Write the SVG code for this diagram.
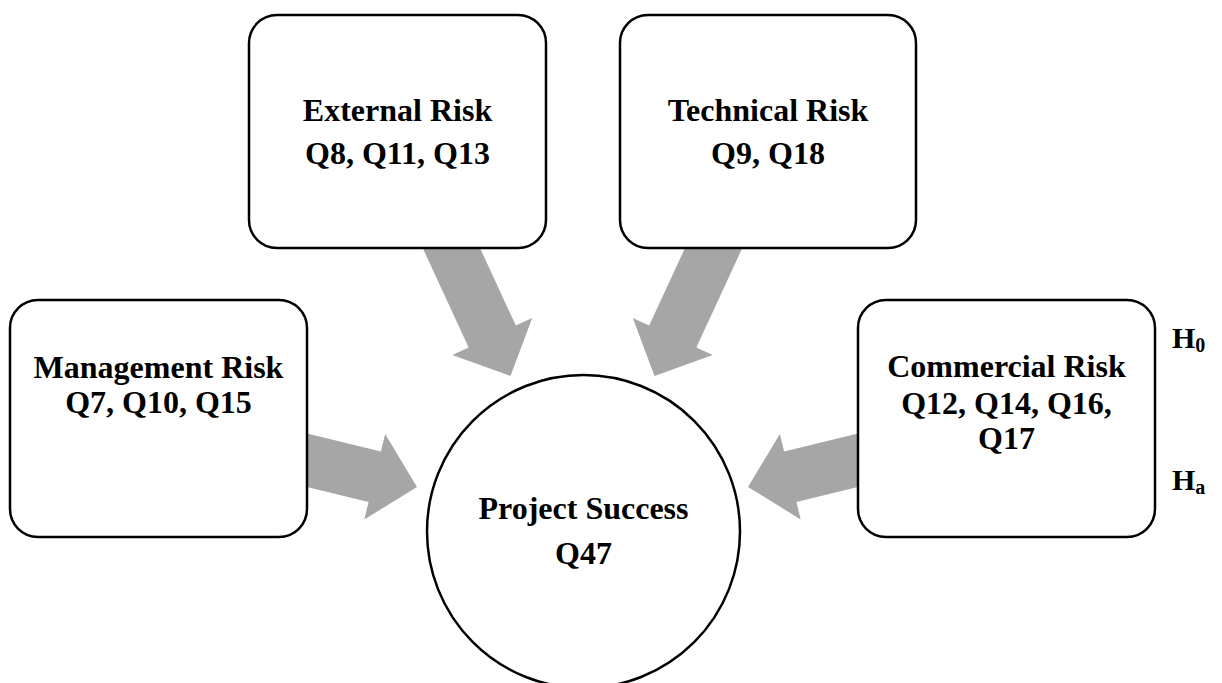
<svg xmlns="http://www.w3.org/2000/svg" width="1222" height="683" viewBox="0 0 1222 683">
  <defs>
    <style>
      .box { fill: #ffffff; stroke: #000000; stroke-width: 2.5; }
      .arrow { fill: #a6a6a6; stroke: none; }
      .lbl { font-family: "Liberation Serif", "Times New Roman", serif; font-weight: bold; font-size: 32px; fill: #000000; text-anchor: middle; }
      .hyp { font-family: "Liberation Serif", "Times New Roman", serif; font-weight: bold; font-size: 30px; fill: #000000; }
    </style>
  </defs>
  <rect width="1222" height="683" fill="#ffffff"/>

  <!-- block arrows: local frame points along +x, tip at origin -->
  <g id="connectors">
    <polygon class="arrow" transform="translate(510.5 376) rotate(65.2)" points="-165,-26 -43.5,-26 -43.5,-44 0,0 -43.5,44 -43.5,26 -165,26"/>
    <polygon class="arrow" transform="translate(654.5 376) rotate(114.8)" points="-165,-26 -43.5,-26 -43.5,-44 0,0 -43.5,44 -43.5,26 -165,26"/>
    <polygon class="arrow" transform="translate(417 487) rotate(13.7)" points="-130,-26 -43.5,-26 -43.5,-44 0,0 -43.5,44 -43.5,26 -130,26"/>
    <polygon class="arrow" transform="translate(748 487) rotate(166.3)" points="-130,-26 -43.5,-26 -43.5,-44 0,0 -43.5,44 -43.5,26 -130,26"/>
  </g>

  <g id="external-risk">
    <rect class="box" x="249" y="15" width="297" height="233" rx="28"/>
    <text class="lbl" x="397.5" y="121">External Risk</text>
    <text class="lbl" x="397.5" y="164">Q8, Q11, Q13</text>
  </g>

  <g id="technical-risk">
    <rect class="box" x="620" y="15" width="296" height="233" rx="28"/>
    <text class="lbl" x="768" y="121">Technical Risk</text>
    <text class="lbl" x="768" y="164">Q9, Q18</text>
  </g>

  <g id="management-risk">
    <rect class="box" x="10" y="300" width="297" height="237" rx="28"/>
    <text class="lbl" x="158.5" y="378">Management Risk</text>
    <text class="lbl" x="158.5" y="413">Q7, Q10, Q15</text>
  </g>

  <g id="commercial-risk">
    <rect class="box" x="858" y="300" width="297" height="237" rx="28"/>
    <text class="lbl" x="1006.5" y="377">Commercial Risk</text>
    <text class="lbl" x="1006.5" y="414">Q12, Q14, Q16,</text>
    <text class="lbl" x="1006.5" y="449">Q17</text>
  </g>

  <g id="project-success">
    <circle class="box" cx="583.5" cy="531.5" r="156.5"/>
    <text class="lbl" x="583.5" y="519">Project Success</text>
    <text class="lbl" x="583.5" y="564">Q47</text>
  </g>

  <g id="hypotheses">
    <text class="hyp" x="1172" y="348">H<tspan font-size="20" dy="4">0</tspan></text>
    <text class="hyp" x="1172" y="490">H<tspan font-size="20" dy="4">a</tspan></text>
  </g>
</svg>
